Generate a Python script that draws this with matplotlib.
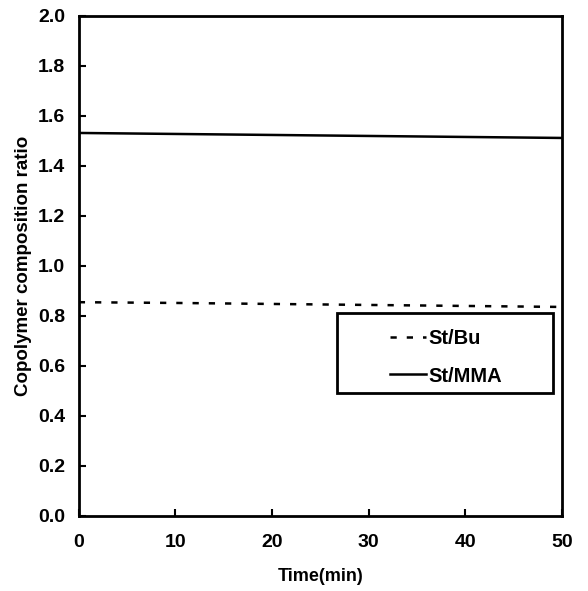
import matplotlib

matplotlib.use("Agg")
import matplotlib.pyplot as plt
from matplotlib.patches import Rectangle

plt.rcParams["font.family"] = ["Liberation Sans", "DejaVu Sans"]
plt.rcParams["font.weight"] = "bold"

time_min = [0, 10, 20, 30, 40, 50]
st_bu = [0.855, 0.852, 0.848, 0.844, 0.840, 0.836]
st_mma = [1.532, 1.528, 1.524, 1.520, 1.516, 1.512]
x_ticks = [0, 10, 20, 30, 40, 50]
y_ticks = [0.0, 0.2, 0.4, 0.6, 0.8, 1.0, 1.2, 1.4, 1.6, 1.8, 2.0]

fig = plt.figure(figsize=(5.88, 5.91), dpi=100)
ax = fig.add_axes([0.134, 0.127, 0.822, 0.846])

ax.plot(time_min, st_bu, color="black", lw=1.8, ls=(0, (2.5, 4)), label="St/Bu")
ax.plot(time_min, st_mma, color="black", lw=1.8, ls="-", label="St/MMA")

ax.set_xlim(0, 50)
ax.set_ylim(0, 2.0)
ax.set_xticks(x_ticks)
ax.set_yticks(y_ticks)
ax.set_yticklabels(["%.1f" % v for v in y_ticks])
ax.tick_params(direction="in", length=5, width=1.5, labelsize=14)
ax.tick_params(axis="x", pad=13)
ax.tick_params(axis="y", pad=10)
for lab in ax.get_xticklabels() + ax.get_yticklabels():
    lab.set_fontweight("bold")
for s in ax.spines.values():
    s.set_linewidth(2)

ax.set_xlabel("Time(min)", fontsize=13, fontweight="bold", labelpad=12)
ax.set_ylabel("Copolymer composition ratio", fontsize=13.5, fontweight="bold")
ax.yaxis.set_label_coords(-0.097, 0.5)

# legend box drawn by hand, entries from a frameless legend
ax.add_patch(
    Rectangle(
        (0.534, 0.246),
        0.447,
        0.160,
        transform=ax.transAxes,
        fill=True,
        facecolor="white",
        edgecolor="black",
        lw=2,
        zorder=4,
    )
)
leg = ax.legend(
    loc="center left",
    bbox_to_anchor=(0.624, 0.317),
    frameon=False,
    handlelength=1.75,
    labelspacing=0.9,
    borderpad=0,
    handletextpad=0.15,
    prop={"weight": "bold", "size": 14.5},
)
leg.set_zorder(5)

fig.savefig("out.png", dpi=100)
